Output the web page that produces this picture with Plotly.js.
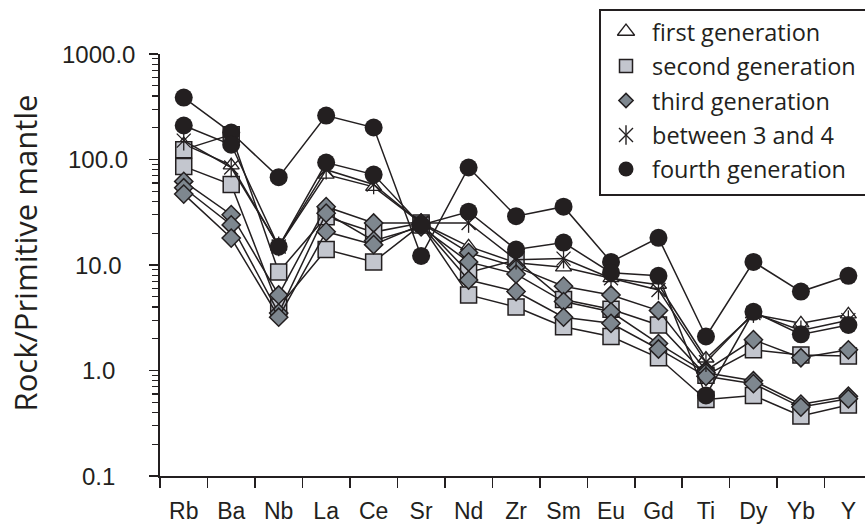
<!DOCTYPE html>
<html>
<head>
<meta charset="utf-8">
<script src="https://cdn.plot.ly/plotly-3.0.1.min.js"></script>
<style>html,body{margin:0;padding:0;background:#fff;}#chart{width:865px;height:528px;}</style>
</head>
<body>
<div id="chart"></div>
<script>
// ---- data ----
const categories = ["Rb","Ba","Nb","La","Ce","Sr","Nd","Zr","Sm","Eu","Gd","Ti","Dy","Yb","Y"];

const firstGen1   = [140, 88, 15, 72, 55, 25, 15, 10.5, 9.5, 7.5, 6.5, 1.3, 3.4, 2.8, 3.4];

const secondGen1  = [124, 172, 8.6, 28.7, 20.5, 25, 8.5, 11.2, 4.7, 3.8, 2.7, 0.9, 1.57, 1.4, 1.37];
const secondGen2  = [86, 58, 4.0, 14, 10.7, 24, 5.2, 4.0, 2.6, 2.1, 1.32, 0.53, 0.58, 0.37, 0.47];

const thirdGen1   = [62, 30, 5.2, 35.7, 25, 25, 13.1, 9.6, 6.3, 5.2, 3.7, 1.0, 1.96, 1.32, 1.57];
const thirdGen2   = [54, 24, 3.5, 31, 17, 23, 10.7, 8.2, 4.5, 3.6, 1.8, 0.95, 0.8, 0.48, 0.57];
const thirdGen3   = [47, 18, 3.2, 20.7, 15.6, 24, 7.2, 5.6, 3.2, 2.8, 1.6, 0.88, 0.75, 0.45, 0.54];

const between34   = [151, 84, 15, 80, 58, 25, 25, 11.2, 11.5, 7.5, 5.8, 1.2, 3.5, 2.4, 3.0];

const fourthGen1  = [386, 180, 68, 261, 201, 12.2, 84, 29, 35.7, 10.7, 18.1, 2.1, 10.7, 5.6, 7.9];
const fourthGen2  = [210, 138, 14.9, 93.5, 72, 24, 32, 14, 16.3, 8.45, 7.9, 0.58, 3.6, 2.2, 2.7];

const yTickVals = [0.1, 1, 10, 100, 1000];
const yTickText = ["0.1", "1.0", "10.0", "100.0", "1000.0"];
const legendLabels = ["first generation", "second generation", "third generation", "between 3 and 4", "fourth generation"];
const yTitle = "Rock/Primitive mantle";

// ---- styles ----
const INK = "#231f20";
const SQ_FILL = "#c3c6ce";
const DI_FILL = "#7e878f";
const lineStyle = {color: INK, width: 1.5};
const TICK_FONT = {family: "Liberation Sans, Arial, sans-serif", size: 24, color: INK};
const HUMAN_FONT = "Open Sans, Noto Sans, sans-serif";

function series(y, marker, mode) {
  return {
    type: "scatter", mode: mode || "lines+markers",
    x: categories, y: y, line: lineStyle, marker: marker,
    showlegend: false, hoverinfo: "x+y", cliponaxis: false
  };
}
const triM = {symbol: "triangle-up", size: 14, color: "#ffffff", line: {color: INK, width: 1.3}};
const sqM  = {symbol: "square", size: 16, color: SQ_FILL, line: {color: INK, width: 1.5}};
const diM  = {symbol: "diamond", size: 14, color: DI_FILL, line: {color: INK, width: 1.5}};
const xM   = {symbol: "x-thin-open", size: 14, color: INK, line: {color: INK, width: 1.3}};
const vM   = {symbol: "line-ns-open", size: 14, color: INK, line: {color: INK, width: 1.3}};
const ciM  = {symbol: "circle", size: 18, color: INK, line: {color: INK, width: 0}};

const traces = [
  series(firstGen1, triM),
  series(secondGen1, sqM),
  series(secondGen2, sqM),
  series(thirdGen1, diM),
  series(thirdGen2, diM),
  series(thirdGen3, diM),
  series(between34, xM),
  series(between34, vM, "markers"),
  series(fourthGen1, ciM),
  series(fourthGen2, ciM)
];

// ---- geometry (page pixels) ----
const W = 865, H = 528;
const PL = 160, PR = 865, PT = 54, PB = 476, TOP = 30;
const paperX = p => (p - PL) / (PR - PL);
const paperY = p => (PB - p) / (PB - TOP);

// ---- custom legend on a pixel-unit axis pair (x2/y2) ----
const legRowsPx = [31.5, 66, 100.5, 135, 169];
const legSymX = 626, legTextX = 650;

const legMarkers = [
  {symbol: "triangle-up-open", size: 15, color: INK, line: {color: INK, width: 1.3}},
  {symbol: "square", size: 13, color: SQ_FILL, line: {color: INK, width: 1.5}},
  {symbol: "diamond", size: 11, color: DI_FILL, line: {color: INK, width: 1.5}},
  {symbol: "x-thin-open", size: 14, color: INK, line: {color: INK, width: 1.4}},
  {symbol: "circle", size: 15, color: INK, line: {color: INK, width: 0}}
];
legMarkers.forEach((m, i) => {
  traces.push({type: "scatter", mode: "markers", x: [legSymX], y: [legRowsPx[i]], xaxis: "x2", yaxis: "y2",
    marker: m, showlegend: false, hoverinfo: "skip", cliponaxis: false});
});
traces.push({type: "scatter", mode: "markers", x: [legSymX], y: [legRowsPx[3]], xaxis: "x2", yaxis: "y2",
  marker: {symbol: "line-ns-open", size: 14, color: INK, line: {color: INK, width: 1.4}},
  showlegend: false, hoverinfo: "skip", cliponaxis: false});

const annotations = legendLabels.map((t, i) => ({
  xref: "x2", yref: "y2", x: legTextX, y: legRowsPx[i], xanchor: "left", yanchor: "middle",
  text: t, showarrow: false, font: {family: HUMAN_FONT, size: 23.5, color: INK}
}));

// y tick labels, centred in a column left of the axis, placed through the log y scale
yTickVals.forEach((v, i) => {
  annotations.push({
    xref: "paper", yref: "y", x: paperX(98), y: Math.log10(v), xanchor: "center", yanchor: "middle",
    text: yTickText[i], showarrow: false, font: TICK_FONT
  });
});

const layout = {
  width: W, height: H,
  margin: {l: PL, r: W - PR, t: TOP, b: H - PB, pad: 0, autoexpand: false},
  paper_bgcolor: "#ffffff", plot_bgcolor: "rgba(0,0,0,0)",
  showlegend: false,
  font: {family: "Liberation Sans, Arial, sans-serif", color: INK},
  xaxis: {
    type: "category", categoryorder: "array", categoryarray: categories,
    range: [-0.5, 14.35], tickson: "boundaries", anchor: "y",
    ticks: "outside", ticklen: 10, tickwidth: 1.5, tickcolor: INK,
    showline: true, linecolor: INK, linewidth: 2,
    showgrid: false, zeroline: false,
    tickfont: {family: "Liberation Sans, Arial, sans-serif", size: 23, color: INK},
    ticklabelstandoff: 13, fixedrange: true
  },
  yaxis: {
    type: "log", range: [-1, 3], domain: [0, (PB - PT) / (PB - TOP)], anchor: "x",
    tickmode: "array", tickvals: yTickVals, ticktext: yTickText, showticklabels: false,
    ticks: "outside", ticklen: 9, tickwidth: 1.5, tickcolor: INK,
    minor: {ticks: "outside", ticklen: 6, tickwidth: 1.2, tickcolor: INK, dtick: "D1", showgrid: false},
    showline: true, linecolor: INK, linewidth: 2,
    showgrid: false, zeroline: false,
    fixedrange: true
  },
  xaxis2: {domain: [0, 1], anchor: "y2", range: [PL, PR], visible: false, fixedrange: true},
  yaxis2: {
    domain: [0, 1], anchor: "x2", range: [PB, TOP], visible: true,
    showline: false, showticklabels: false, ticks: "", showgrid: false, zeroline: false,
    title: {text: yTitle, font: {family: HUMAN_FONT, size: 31, color: INK}, standoff: 112},
    fixedrange: true
  },
  shapes: [{
    type: "rect", xref: "paper", yref: "paper",
    x0: paperX(600), x1: paperX(900), y0: paperY(195), y1: paperY(10),
    line: {color: INK, width: 2}, fillcolor: "rgba(0,0,0,0)", layer: "above"
  }],
  annotations: annotations
};

Plotly.newPlot("chart", traces, layout, {displayModeBar: false, staticPlot: true});
</script>
</body>
</html>
